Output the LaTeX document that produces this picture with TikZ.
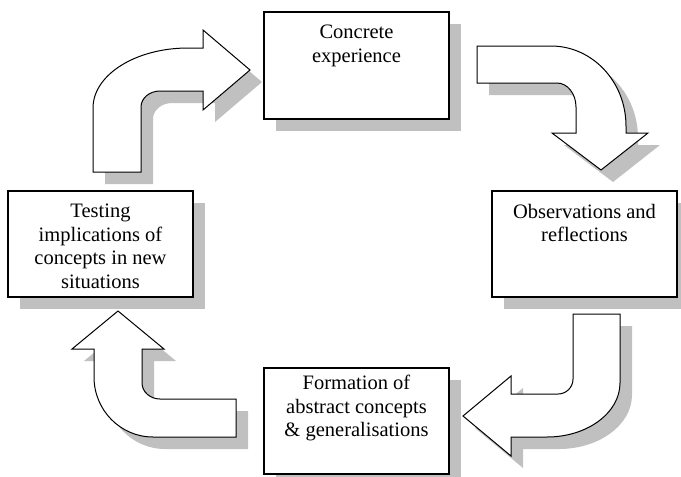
\documentclass[tikz,border=0pt]{standalone}
\usepackage{fontspec}
\setmainfont{Liberation Serif}
\usetikzlibrary{shadows}
\definecolor{shd}{RGB}{192,192,192}
\begin{document}
\begin{tikzpicture}[x=1pt,y=-1pt,
  shdw/.style={drop shadow={shadow xshift=12pt,shadow yshift=-12pt,fill=shd,opacity=1}},
  box/.style={draw,line width=1.2pt,fill=white,minimum width=185pt,minimum height=106pt,inner sep=0pt,shdw},
  bendarrow/.style={draw,line width=1pt,fill=white,line join=miter,shdw},
  lbl/.style={align=center,inner sep=0pt,anchor=north,font=\fontsize{20.5}{23.5}\selectfont}]
\useasboundingbox (0,0) rectangle (681,477);
% boxes
\node[box,minimum height=107pt] (ce) at (356.5,65.5) {};
\node[box] (ob) at (584.5,244) {};
\node[box] (te) at (100.5,244) {};
\node[box] (fo) at (356.5,421) {};
% bent arrows
\path[bendarrow] (93,172) -- (93,108) .. controls (93,74.9) and (135.6,48) .. (188,48) -- (203,48) -- (203,30) -- (250,70) -- (203,110) -- (203,91) -- (160,91) .. controls (149.5,91) and (141,98.2) .. (141,107) -- (141,172) -- cycle;
\path[bendarrow] (477,46) -- (551,46) .. controls (592.4,46) and (626,81.8) .. (626,126) -- (626,133) -- (648,133) -- (601,170) -- (552,133) -- (576,133) -- (576,107) .. controls (576,93.8) and (567.5,83) .. (557,83) -- (477,83) -- cycle;
\path[bendarrow] (573,314) -- (620,314) -- (620,383) .. controls (620,412.8) and (587.3,437) .. (547,437) -- (511,437) -- (511,456) -- (463,416) -- (511,376) -- (511,394) -- (558,394) .. controls (566.3,394) and (573,387.3) .. (573,379) -- cycle;
\path[bendarrow] (118,311) -- (164,349) -- (142,349) -- (142,383) .. controls (142,391.8) and (150.1,399) .. (160,399) -- (236,399) -- (236,437) -- (153,437) .. controls (120.4,437) and (94,410.1) .. (94,377) -- (94,349) -- (72,349) -- cycle;
% labels
\node[lbl] (ceT) at (356.5,25) {Concrete\\experience};
\node[lbl] (obT) at (584.5,204) {Observations and\\reflections};
\node[lbl] (teT) at (100.5,204) {Testing\\implications of\\concepts in new\\situations};
\node[lbl] (foT) at (356.5,375) {Formation of\\abstract concepts\\\& generalisations};
\end{tikzpicture}
\end{document}
